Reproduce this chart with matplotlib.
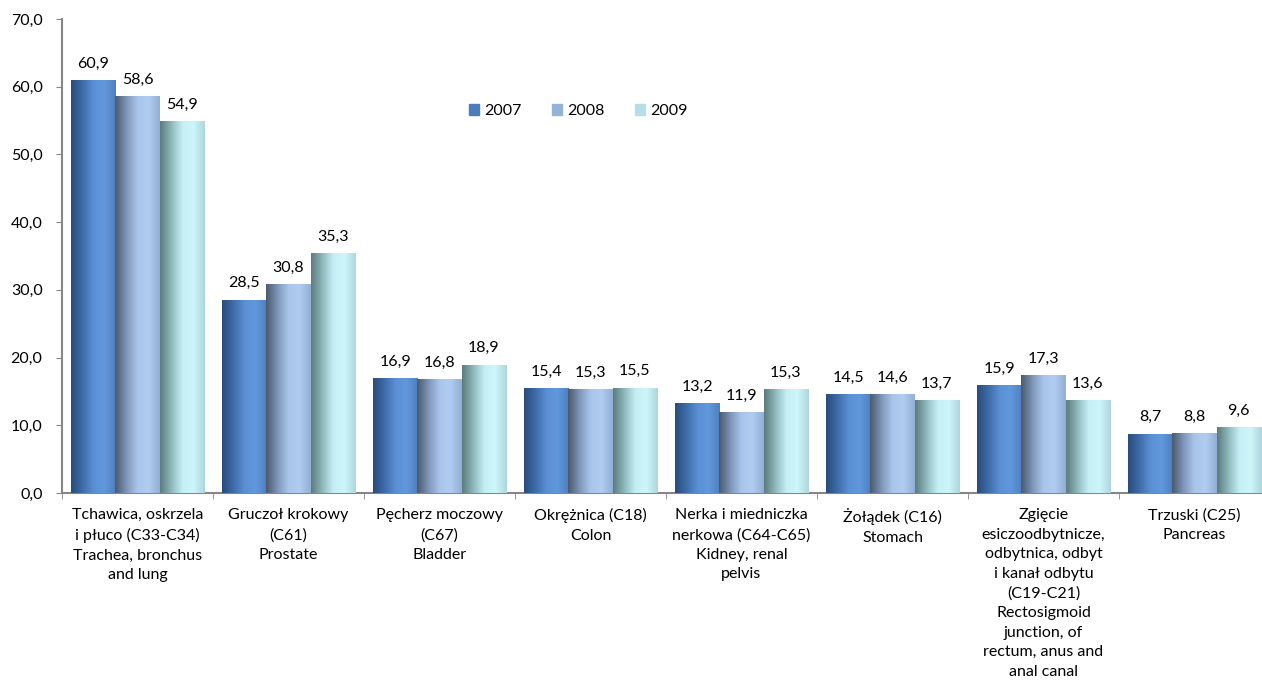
import numpy as np
import matplotlib
matplotlib.use("Agg")
import matplotlib.pyplot as plt
from matplotlib.colors import LinearSegmentedColormap

plt.rcParams['font.family'] = ['Lato', 'DejaVu Sans']

categories = [
    "Tchawica, oskrzela\ni płuco (C33-C34)\nTrachea, bronchus\nand lung",
    "Gruczoł krokowy\n(C61)\nProstate",
    "Pęcherz moczowy\n(C67)\nBladder",
    "Okrężnica (C18)\nColon",
    "Nerka i miedniczka\nnerkowa (C64-C65)\nKidney, renal\npelvis",
    "Żołądek (C16)\nStomach",
    "Zgięcie\nesiczoodbytnicze,\nodbytnica, odbyt\ni kanał odbytu\n(C19-C21)\nRectosigmoid\njunction, of\nrectum, anus and\nanal canal",
    "Trzuski (C25)\nPancreas",
]
years = ["2007", "2008", "2009"]
v2007 = [60.9, 28.5, 16.9, 15.4, 13.2, 14.5, 15.9, 8.7]
v2008 = [58.6, 30.8, 16.8, 15.3, 11.9, 14.6, 17.3, 8.8]
v2009 = [54.9, 35.3, 18.9, 15.5, 15.3, 13.7, 13.6, 9.6]
series = [v2007, v2008, v2009]
yticks = [0, 10, 20, 30, 40, 50, 60, 70]

legend_colors = ["#4A7EBB", "#95B3D7", "#B7DEE8"]
gradients = [
    ["#294C7C", "#3F6CA8", "#5A8FD4", "#6198DC", "#4F80C0"],
    ["#4C5A6E", "#7D95B8", "#A9C5EB", "#B0CCF0", "#93AFD6"],
    ["#5D7C7E", "#8FB8BC", "#C5EFF5", "#CDF6FB", "#AFD6DC"],
]

W, H = 1262, 689
fig = plt.figure(figsize=(W / 100, H / 100), dpi=100)
ax = fig.add_axes([62 / W, (H - 493) / H, (1270 - 62) / W, (493 - 19) / H])

n = len(categories)
x = np.arange(n)
bw = 0.293
offsets = [-bw, 0, bw]
grad = np.linspace(0, 1, 64).reshape(1, -1)

for si, (vals, off) in enumerate(zip(series, offsets)):
    cmap = LinearSegmentedColormap.from_list("g%d" % si, gradients[si])
    bars = ax.bar(x + off, vals, width=bw, color=legend_colors[si],
                  label=years[si], zorder=2, linewidth=0)
    for b, v in zip(bars, vals):
        x0 = b.get_x()
        x1 = x0 + b.get_width()
        ax.imshow(grad, cmap=cmap, aspect='auto', extent=[x0, x1, 0, v],
                  zorder=3, interpolation='bicubic')
        ax.annotate(f"{v:.1f}".replace(".", ","), (x0 + b.get_width() / 2, v),
                    xytext=(0, 7), textcoords='offset points',
                    ha='center', va='bottom', fontsize=11.5, color='#000000')

ax.set_xlim(-0.5, n - 0.5)
ax.set_ylim(0, 70)
ax.set_yticks(yticks)
ax.set_yticklabels([f"{t:.1f}".replace(".", ",") for t in yticks], fontsize=11.5)
ax.set_xticks(x)
ax.set_xticklabels(categories, fontsize=11.5, linespacing=1.5)
ax.tick_params(axis='x', length=0, pad=11)
ax.set_xticks(np.arange(n + 1) - 0.5, minor=True)
ax.tick_params(axis='x', which='minor', length=4, color='#868686', direction='out')
ax.tick_params(axis='y', length=4, color='#868686', direction='out', pad=10)
for s in ['top', 'right']:
    ax.spines[s].set_visible(False)
for s in ['left', 'bottom']:
    ax.spines[s].set_color('#868686')
    ax.spines[s].set_linewidth(1.5)

handles = [plt.Rectangle((0, 0), 1, 1, color=c) for c in legend_colors]
ax.legend(handles, years, loc='center', bbox_to_anchor=(578 / W, (H - 111) / H),
          bbox_transform=fig.transFigure, ncol=3, frameon=False, fontsize=11.5,
          handlelength=0.65, handleheight=0.65, handletextpad=0.3, columnspacing=1.9)

fig.savefig("out.png", dpi=100)
